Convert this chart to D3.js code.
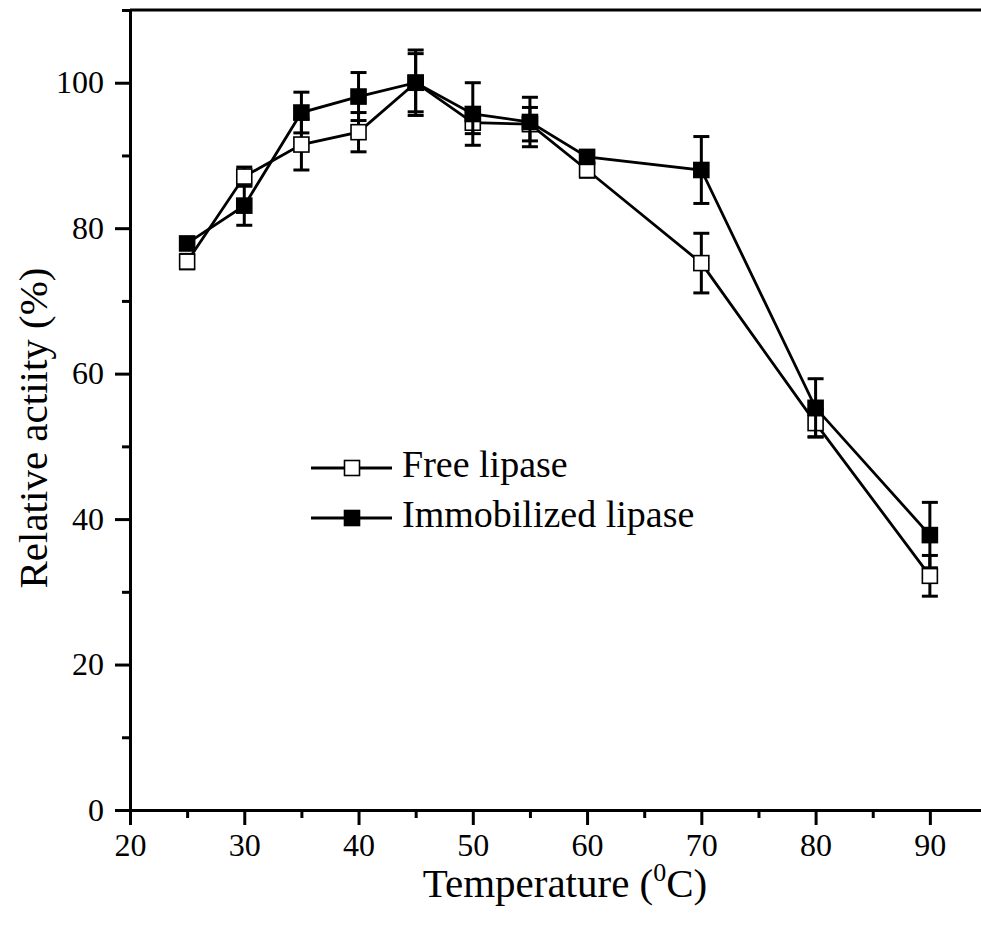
<!DOCTYPE html>
<html>
<head>
<meta charset="utf-8">
<script src="https://cdn.jsdelivr.net/npm/d3@7"></script>
<style>
  body { margin: 0; background: #fff; }
  text { font-family: "Liberation Serif", "Times New Roman", serif; fill: #000; }
</style>
</head>
<body>
<svg id="chart" width="981" height="926"></svg>
<script>
// temperature (°C) and relative activity (%)
const temps = [25, 30, 35, 40, 45, 50, 55, 60, 70, 80, 90]
const freeVals = [75.4, 87.1, 91.5, 93.2, 100, 94.5, 94.3, 88.0, 75.2, 53.2, 32.2]
const freeErr = [1.0, 1.3, 3.5, 2.7, 4.5, 1.5, 2.3, 1.0, 4.1, 1.9, 2.8]
const immobVals = [77.9, 83.1, 95.9, 98.1, 100, 95.7, 94.6, 89.8, 88.0, 55.3, 37.8]
const immobErr = [0.8, 2.7, 2.8, 3.3, 4.0, 4.3, 3.4, 0.7, 4.6, 4.0, 4.5]
const xTicks = [20, 30, 40, 50, 60, 70, 80, 90]
const xMinor = [25, 35, 45, 55, 65, 75, 85, 95]
const yTicks = [0, 20, 40, 60, 80, 100]
const yMinor = [10, 30, 50, 70, 90, 110]
const seriesNames = ['Free lipase', 'Immobilized lipase']

const svg = d3.select('#chart')

var x = d3.scaleLinear().domain([20, 95]).range([130, 987])
var y = d3.scaleLinear().domain([0, 110]).range([810, 10])

const tickFont = 32, titleFont = 41, legendFont = 38

// minor ticks
svg.append('g')
  .attr('transform', 'translate(0,' + y(0) + ')')
  .call(d3.axisBottom(x).tickValues(xMinor).tickSize(8).tickFormat(''))
  .call(g => g.select('.domain').remove())
  .call(g => g.selectAll('line').attr('stroke-width', 3))
svg.append('g')
  .attr('transform', 'translate(' + x(20) + ',0)')
  .call(d3.axisLeft(y).tickValues(yMinor).tickSize(8).tickFormat(''))
  .call(g => g.select('.domain').remove())
  .call(g => g.selectAll('line').attr('stroke-width', 3))

// major axes
const xAxis = svg.append('g')
  .attr('transform', 'translate(0,' + y(0) + ')')
  .call(d3.axisBottom(x).tickValues(xTicks).tickSize(15).tickSizeOuter(0).tickPadding(8))
xAxis.select('.domain').attr('stroke-width', 3)
xAxis.selectAll('line').attr('stroke-width', 3)
xAxis.selectAll('text').style('font-size', tickFont + 'px')

const yAxis = svg.append('g')
  .attr('transform', 'translate(' + x(20) + ',0)')
  .call(d3.axisLeft(y).tickValues(yTicks).tickSize(15).tickSizeOuter(0).tickPadding(11))
yAxis.select('.domain').attr('stroke-width', 3)
yAxis.selectAll('line').attr('stroke-width', 3)
yAxis.selectAll('text').style('font-size', tickFont + 'px')

// top frame line
svg.append('line')
  .attr('x1', x(20)).attr('x2', x(95))
  .attr('y1', y(110)).attr('y2', y(110))
  .attr('stroke', '#000').attr('stroke-width', 3)

// axis titles
const xt = svg.append('text')
  .attr('x', 565).attr('y', 897)
  .attr('text-anchor', 'middle')
  .style('font-size', titleFont + 'px')
xt.append('tspan').text('Temperature (')
xt.append('tspan').attr('dy', -16).style('font-size', '26px').text('0')
xt.append('tspan').attr('dy', 16).text('C)')

svg.append('text')
  .attr('transform', 'translate(47,428) rotate(-90)')
  .attr('text-anchor', 'middle')
  .style('font-size', titleFont + 'px')
  .text('Relative actiity (%)')

const line = d3.line().x(d => x(d[0])).y(d => y(d[1]))
const capW = 16, boxS = 15

function drawSeries(vals, errs, filled) {
  const pts = temps.map((t, i) => [t, vals[i], errs[i]])
  const g = svg.append('g')
  g.append('path')
    .datum(pts)
    .attr('d', line)
    .attr('fill', 'none')
    .attr('stroke', '#000')
    .attr('stroke-width', 2.8)
  const eb = g.selectAll('.eb').data(pts).enter().append('g')
  eb.append('line')
    .attr('x1', d => x(d[0])).attr('x2', d => x(d[0]))
    .attr('y1', d => y(d[1] + d[2])).attr('y2', d => y(d[1] - d[2]))
    .attr('stroke', '#000').attr('stroke-width', 3)
  ;[1, -1].forEach(s => {
    eb.append('line')
      .attr('x1', d => x(d[0]) - capW / 2).attr('x2', d => x(d[0]) + capW / 2)
      .attr('y1', d => y(d[1] + s * d[2])).attr('y2', d => y(d[1] + s * d[2]))
      .attr('stroke', '#000').attr('stroke-width', 3)
  })
  g.selectAll('rect').data(pts).enter().append('rect')
    .attr('x', d => x(d[0]) - boxS / 2)
    .attr('y', d => y(d[1]) - boxS / 2)
    .attr('width', boxS).attr('height', boxS)
    .attr('fill', filled ? '#000' : '#fff')
    .attr('stroke', '#000').attr('stroke-width', 1.6)
}

drawSeries(freeVals, freeErr, false)
drawSeries(immobVals, immobErr, true)

// legend
const legend = svg.append('g')
seriesNames.forEach((name, i) => {
  const ly = 468 + i * 50
  legend.append('line')
    .attr('x1', 311).attr('x2', 392).attr('y1', ly).attr('y2', ly)
    .attr('stroke', '#000').attr('stroke-width', 2.8)
  legend.append('rect')
    .attr('x', 352 - 7.5).attr('y', ly - 7.5)
    .attr('width', 15).attr('height', 15)
    .attr('fill', i === 1 ? '#000' : '#fff')
    .attr('stroke', '#000').attr('stroke-width', 1.6)
  legend.append('text')
    .attr('x', 402).attr('y', ly + 9)
    .style('font-size', legendFont + 'px')
    .text(name)
})
</script>
</body>
</html>
